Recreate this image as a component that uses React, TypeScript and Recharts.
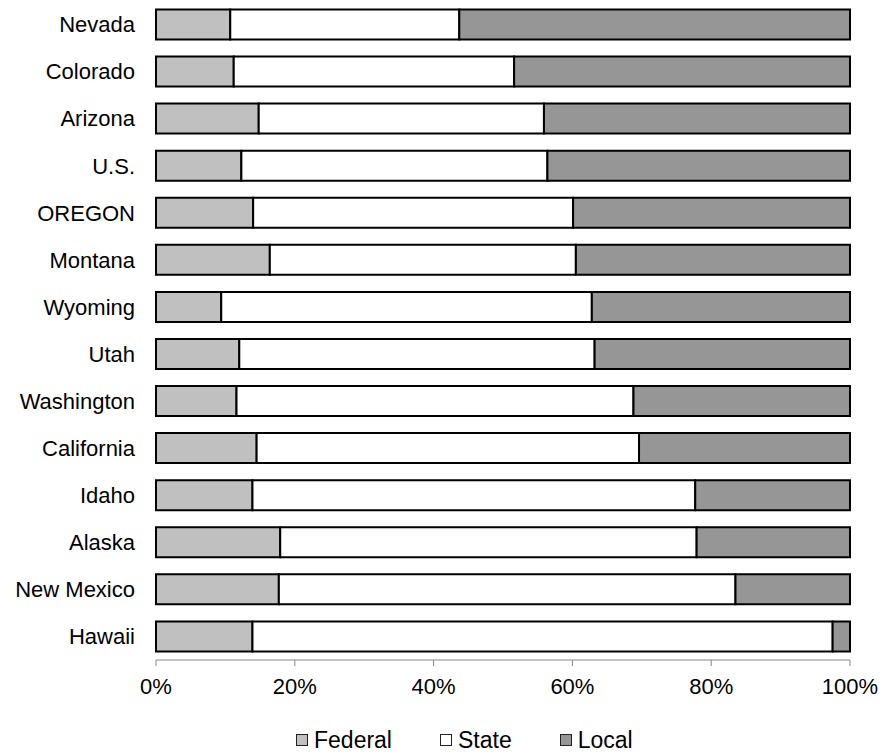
import React from "react";
import { BarChart, Bar, XAxis, YAxis, Legend } from "recharts";

const categories = [
  "Nevada", "Colorado", "Arizona", "U.S.", "OREGON", "Montana", "Wyoming",
  "Utah", "Washington", "California", "Idaho", "Alaska", "New Mexico", "Hawaii",
];
const federalShare = [10.7, 11.2, 14.8, 12.3, 14.0, 16.4, 9.4, 12.0, 11.6, 14.5, 13.9, 17.9, 17.7, 13.9];
const stateShare = [33.0, 40.4, 41.1, 44.1, 46.1, 44.1, 53.4, 51.2, 57.2, 55.1, 63.8, 60.0, 65.8, 83.6];
const localShare = [56.3, 48.4, 44.1, 43.6, 39.9, 39.5, 37.2, 36.8, 31.2, 30.4, 22.3, 22.1, 16.5, 2.5];
const xTicks = [0, 20, 40, 60, 80, 100];

const seriesNames = ["Federal", "State", "Local"];
const seriesColors = ["#C0C0C0", "#FFFFFF", "#969696"];

const data = categories.map((name, i) => ({
  name,
  Federal: federalShare[i],
  State: stateShare[i],
  Local: localShare[i],
}));

const FONT = "'Liberation Sans', Arial, sans-serif";

const LegendContent = () => (
  <div
    style={{
      display: "flex",
      alignItems: "center",
      height: 26,
      paddingLeft: 296,
      fontFamily: FONT,
      fontSize: 23,
      color: "#000",
      boxSizing: "border-box",
    }}
  >
    {seriesNames.map((n, i) => (
      <div key={n} style={{ display: "flex", alignItems: "center", marginRight: 48 }}>
        <span
          style={{
            display: "inline-block",
            width: 10,
            height: 10,
            border: "1.5px solid #222",
            background: seriesColors[i],
            marginRight: 6,
          }}
        />
        <span>{n}</span>
      </div>
    ))}
  </div>
);

export default function App() {
  return (
    <div style={{ position: "absolute", left: 0, top: 0, background: "#fff", fontFamily: FONT }}>
      <BarChart
        layout="vertical"
        width={882}
        height={752}
        data={data}
        margin={{ top: 1, right: 32, left: 0, bottom: 26 }}
        barCategoryGap="18%"
      >
        <XAxis
          type="number"
          domain={[0, 100]}
          ticks={xTicks}
          interval={0}
          tickFormatter={(v: number) => `${v}%`}
          stroke="#868686"
          tickSize={6}
          tickMargin={12}
          height={40}
          tick={{ fill: "#000", fontSize: 22, fontFamily: FONT }}
        />
        <YAxis
          type="category"
          dataKey="name"
          width={156}
          interval={0}
          axisLine={false}
          tickLine={false}
          tickSize={0}
          tickMargin={21}
          tick={{ fill: "#000", fontSize: 22, fontFamily: FONT }}
        />
        <Legend
          verticalAlign="bottom"
          content={<LegendContent />}
          wrapperStyle={{ left: 0, width: 882, top: 727 }}
        />
        {seriesNames.map((n, i) => (
          <Bar
            key={n}
            dataKey={n}
            stackId="a"
            fill={seriesColors[i]}
            stroke="#000"
            strokeWidth={2}
            isAnimationActive={false}
          />
        ))}
      </BarChart>
    </div>
  );
}
